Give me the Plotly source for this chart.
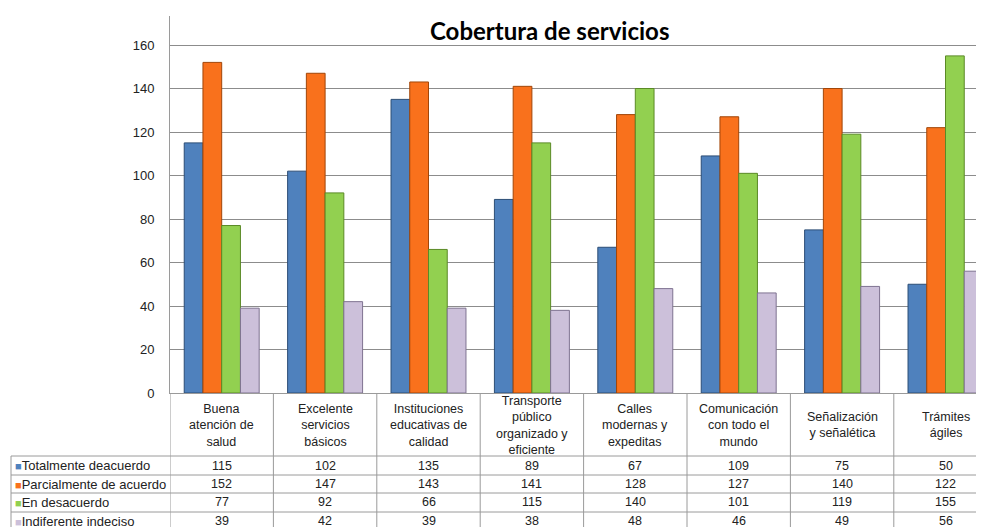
import plotly.graph_objects as go

# ── Data ───────────────────────────────────────────────────────────────────────
CATEGORIES = [
    "Buena<br>atención de<br>salud",
    "Excelente<br>servicios<br>básicos",
    "Instituciones<br>educativas de<br>calidad",
    "Transporte<br>público<br>organizado y<br>eficiente",
    "Calles<br>modernas y<br>expeditas",
    "Comunicación<br>con todo el<br>mundo",
    "Señalización<br>y señalética",
    "Trámites<br>ágiles",
]
SERIES = [
    "Totalmente deacuerdo",
    "Parcialmente de acuerdo",
    "En desacuerdo",
    "Indiferente indeciso",
]
TOTALMENTE = [115, 102, 135, 89, 67, 109, 75, 50]
PARCIALMENTE = [152, 147, 143, 141, 128, 127, 140, 122]
DESACUERDO = [77, 92, 66, 115, 140, 101, 119, 155]
INDIFERENTE = [39, 42, 39, 38, 48, 46, 49, 56]
VALUES = [TOTALMENTE, PARCIALMENTE, DESACUERDO, INDIFERENTE]
Y_TICKS = [0, 20, 40, 60, 80, 100, 120, 140, 160]

# ── Style ──────────────────────────────────────────────────────────────────────
COLORS = ["#4F81BD", "#F9711C", "#92D050", "#CCC0DA"]
EDGES = ["#2C4D75", "#A14609", "#5B8A26", "#7F7391"]
GRID = "#8C8C8C"
LINE = "#9A9A9A"
TEXT = "#222222"
FONT = "Liberation Sans, Arial, sans-serif"

# page body has an 8px margin, so work in screen pixels and shift
OFF = 8
W, H = 984, 527
L, T, B = 170 - OFF, 16 - OFF, 393 - OFF   # plot area in figure pixels
CAT_W = 103.4


def px(x):
    return (x - OFF - L) / (W - L)


def py(y):
    return (B - (y - OFF)) / (B - T)


xs = list(range(len(CATEGORIES)))

fig = go.Figure()
for name, vals, color, edge in zip(SERIES, VALUES, COLORS, EDGES):
    fig.add_trace(go.Bar(
        x=xs, y=vals, name=name,
        marker=dict(color=color, line=dict(color=edge, width=1)),
    ))

shapes = []
annotations = []

# data table: vertical lines
for k in range(len(CATEGORIES)):
    shapes.append(dict(type="line", xref="x", yref="paper",
                       x0=k - 0.5, x1=k - 0.5, y0=py(393), y1=py(540),
                       line=dict(color=LINE, width=1)))
shapes.append(dict(type="line", xref="paper", yref="paper",
                   x0=px(11), x1=px(11), y0=py(456), y1=py(540),
                   line=dict(color=LINE, width=1)))
# horizontal lines
for yy in [456, 475, 493, 512]:
    shapes.append(dict(type="line", xref="paper", yref="paper",
                       x0=px(11), x1=1, y0=py(yy), y1=py(yy),
                       line=dict(color=LINE, width=1)))

# category headers
for k, cat in enumerate(CATEGORIES):
    annotations.append(dict(x=k, y=py(425), xref="x", yref="paper",
                            xanchor="center", yanchor="middle",
                            text=cat, showarrow=False, align="center",
                            font=dict(family=FONT, size=12.5, color=TEXT)))

# rows
row_centers = [465.5, 484, 502.5, 521]
for name, vals, color, yc in zip(SERIES, VALUES, COLORS, row_centers):
    annotations.append(dict(
        x=px(13), y=py(yc), xref="paper", yref="paper",
        xanchor="left", yanchor="middle", showarrow=False,
        text=f"<span style='color:{color};font-size:11px'>■</span>{name}",
        font=dict(family=FONT, size=13, color=TEXT)))
    for k, v in enumerate(vals):
        annotations.append(dict(x=k, y=py(yc), xref="x", yref="paper",
                                xanchor="center", yanchor="middle",
                                text=str(v), showarrow=False,
                                font=dict(family=FONT, size=12.5, color=TEXT)))

# title
annotations.append(dict(x=px(549), y=py(30), xref="paper", yref="paper",
                        xanchor="center", yanchor="middle",
                        text="<b>Cobertura de servicios</b>", showarrow=False,
                        font=dict(family="Lato, Open Sans, sans-serif", size=24, color="#000000")))

fig.update_layout(
    width=W, height=H,
    paper_bgcolor="white", plot_bgcolor="white",
    margin=dict(l=L, r=0, t=T, b=H - B),
    barmode="group", bargap=0.275, bargroupgap=0,
    showlegend=False,
    font=dict(family=FONT, size=12, color=TEXT),
    xaxis=dict(range=[-0.5, -0.5 + (W - L) / CAT_W], showticklabels=False,
               showgrid=False, zeroline=False, showline=True,
               linecolor=LINE, linewidth=1, ticks=""),
    yaxis=dict(range=[0, 160 * (B - T) / 348], tickvals=Y_TICKS,
               showgrid=True, gridcolor=GRID, gridwidth=1, zeroline=False,
               showline=True, linecolor=LINE, linewidth=1,
               ticks="", ticklabelstandoff=12,
               tickfont=dict(family=FONT, size=13, color=TEXT)),
    shapes=shapes,
    annotations=annotations,
)

fig.write_html("out.html")
